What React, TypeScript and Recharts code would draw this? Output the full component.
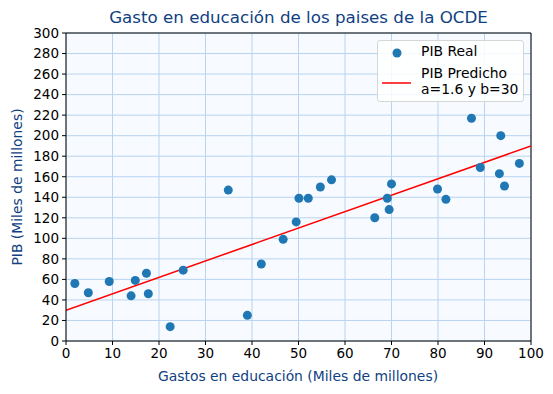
import React from 'react';
import {
  ComposedChart,
  Scatter,
  Line,
  XAxis,
  YAxis,
  CartesianGrid,
  ReferenceLine,
  Label,
} from 'recharts';

// Gastos en educación vs PIB
const gastos = [
  1.9, 4.8, 9.3, 14.0, 14.9, 17.3, 17.7, 22.4, 25.2, 34.9, 39.0, 42.0, 46.7, 49.5, 50.1,
  52.1, 54.7, 57.1, 66.4, 69.1, 69.5, 70.0, 79.9, 81.7, 87.2, 89.1, 93.2, 93.5, 94.3, 97.5,
];
const pibReal = [
  56, 47, 58, 44, 59, 66, 46, 14, 69, 147, 25, 75, 99, 116, 139,
  139, 150, 157, 120, 139, 128, 153, 148, 138, 217, 169, 163, 200, 151, 173,
];
const lineX = [0, 100];
const pibPredicho = [30, 190];

const xTicks = [0, 10, 20, 30, 40, 50, 60, 70, 80, 90, 100];
const yTicks = [0, 20, 40, 60, 80, 100, 120, 140, 160, 180, 200, 220, 240, 260, 280, 300];

const scatterData = gastos.map((x, i) => ({ x, y: pibReal[i] }));
const lineData = lineX.map((x, i) => ({ x, y: pibPredicho[i] }));

const FONT = 'DejaVu Sans, sans-serif';
const LABEL_BLUE = '#0f3f82';

function Dot(props: any) {
  const { cx, cy } = props;
  return <circle cx={cx} cy={cy} r={4.5} fill="#1f77b4" />;
}

function LegendBox() {
  return (
    <div
      style={{
        position: 'absolute',
        left: 377,
        top: 40,
        width: 145,
        height: 60,
        background: 'rgba(255,255,255,0.85)',
        border: '1px solid #d6d6d6',
        borderRadius: 3,
        fontFamily: FONT,
        fontSize: 13.9,
        color: '#000',
      }}
    >
      <svg width={40} height={60} style={{ position: 'absolute', left: 0, top: 0 }}>
        <circle cx={19} cy={12} r={4.5} fill="#1f77b4" />
        <line x1={4} x2={33} y1={42} y2={42} stroke="red" strokeWidth={1.5} />
      </svg>
      <div style={{ position: 'absolute', left: 43, top: 2, lineHeight: '17px' }}>PIB Real</div>
      <div style={{ position: 'absolute', left: 43, top: 24, lineHeight: '16px' }}>
        PIB Predicho
        <br />
        a=1.6 y b=30
      </div>
    </div>
  );
}

export default function App() {
  return (
    <div style={{ position: 'absolute', left: 0, top: 0, width: 553, height: 394, background: '#fff' }}>
      <div
        style={{
          position: 'absolute',
          left: 66,
          width: 465,
          top: 7,
          textAlign: 'center',
          fontFamily: FONT,
          fontSize: 16.7,
          color: LABEL_BLUE,
        }}
      >
        Gasto en educación de los paises de la OCDE
      </div>
      <ComposedChart
        width={553}
        height={394}
        margin={{ top: 33, right: 22, bottom: 0, left: 0 }}
        style={{ fontFamily: FONT }}
      >
        <CartesianGrid stroke="#b8d4f0" strokeWidth={1} fill="#f7faff" />
        <XAxis
          dataKey="x"
          type="number"
          domain={[0, 100]}
          ticks={xTicks}
          interval={0}
          allowDataOverflow
          height={53}
          stroke="#000"
          tickSize={4}
          tick={{ fill: '#000', fontSize: 13.5 }}
          tickMargin={3}
        >
          <Label
            content={() => (
              <text x={298} y={381} textAnchor="middle" fill={LABEL_BLUE} fontSize={13.9} fontFamily={FONT}>
                Gastos en educación (Miles de millones)
              </text>
            )}
          />
        </XAxis>
        <YAxis
          dataKey="y"
          type="number"
          domain={[0, 300]}
          ticks={yTicks}
          interval={0}
          allowDataOverflow
          width={66}
          stroke="#000"
          tickSize={4}
          tick={{ fill: '#000', fontSize: 13.5 }}
          tickMargin={3}
        >
          <Label
            content={() => (
              <text
                x={22}
                y={187}
                transform="rotate(-90 22 187)"
                textAnchor="middle"
                fill={LABEL_BLUE}
                fontSize={13.9}
                fontFamily={FONT}
              >
                PIB (Miles de millones)
              </text>
            )}
          />
        </YAxis>
        <ReferenceLine x={100} stroke="#000" strokeWidth={1} />
        <ReferenceLine y={300} stroke="#000" strokeWidth={1} />
        <Line
          data={lineData}
          dataKey="y"
          stroke="red"
          strokeWidth={1.5}
          dot={false}
          activeDot={false}
          isAnimationActive={false}
          name="PIB Predicho"
        />
        <Scatter
          data={scatterData}
          dataKey="y"
          shape={<Dot />}
          isAnimationActive={false}
          name="PIB Real"
        />
      </ComposedChart>
      <LegendBox />
    </div>
  );
}
